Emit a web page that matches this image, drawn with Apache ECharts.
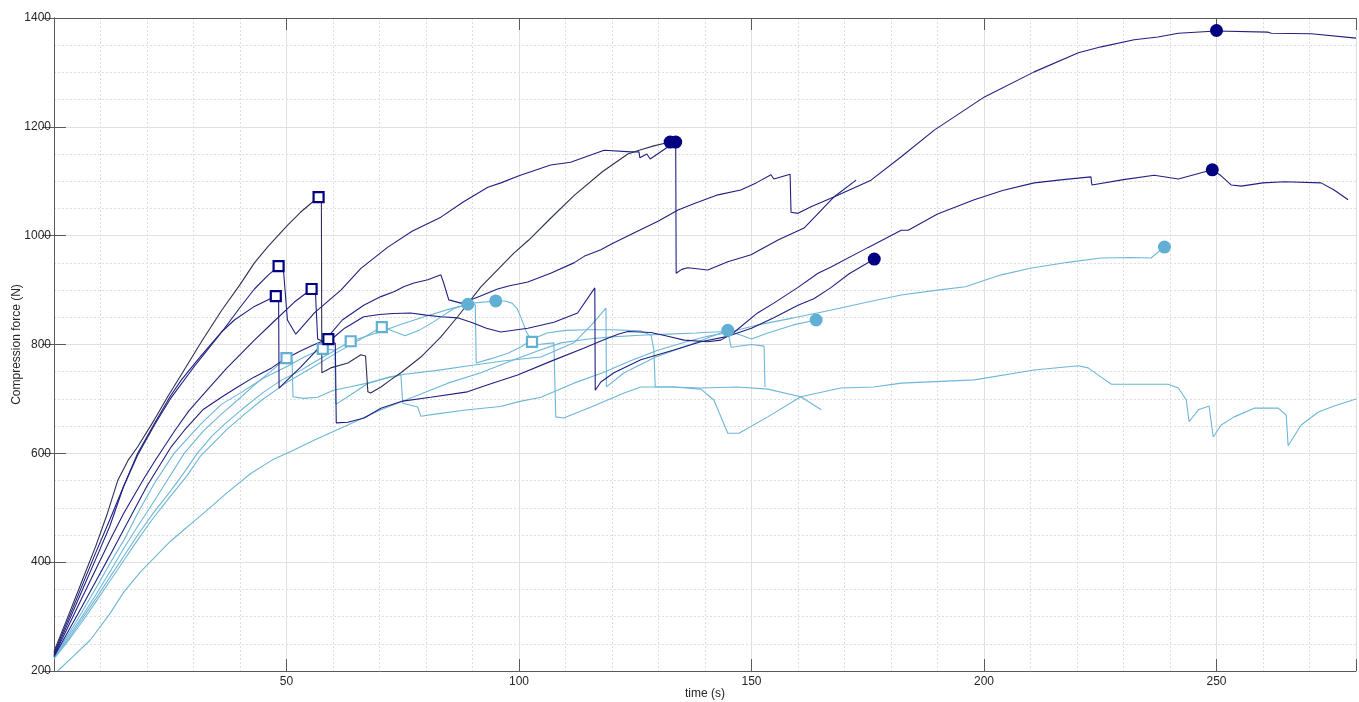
<!DOCTYPE html>
<html>
<head>
<meta charset="utf-8">
<script src="https://cdn.jsdelivr.net/npm/echarts@6/dist/echarts.min.js"></script>
<style>html,body{margin:0;padding:0;background:#fff;}#c{width:1359px;height:702px;}</style>
</head>
<body>
<div id="c"></div>
<script>
// ---- axis ranges / ticks ----
const xRange = [0, 280];
const yRange = [200, 1400];
const xMajor = 50, xMinor = 10, yMajor = 200, yMinor = 50;

// ---- navy (dark) test curves: [time s, force N] ----
const navyD = [[0,236],[3,300],[6,365],[9,430],[11.5,490],[13.7,550],[16,588],[18,612],[21.6,662],[24.5,705],[27.4,745],[31.7,805],[36,862],[40,910],[43.1,950],[46,980],[50.3,1020],[53,1043],[56.9,1071],[57.5,1071],[57.6,748],[59.5,757],[63.2,766],[66,781],[67,779],[67.5,713],[68.1,711],[70.3,722],[72.4,735],[74.6,748],[78.9,777],[83.2,814],[86.8,851],[91.8,906],[98.9,968],[102.1,992],[106.8,1032],[112,1075],[118,1118],[123.4,1150],[126.2,1158],[129,1165],[132.5,1172]];
const navyB = [[0,233],[3,294],[6,356],[9,418],[12,478],[15,540],[18,597],[21.6,652],[25,700],[30.2,760],[33,790],[36,822],[40,868],[43.1,902],[46,927],[48.3,944],[49.3,942],[50.2,845],[52,819],[56,858],[61.7,900],[66,940],[71.8,979],[77,1008],[83.2,1034],[88,1062],[93.3,1089],[96.1,1097],[100,1110],[106.8,1130],[111.1,1135],[118.3,1157],[124.1,1154],[125.8,1154],[126,1143],[127.5,1150],[128.2,1141],[132,1163],[133.7,1172],[133.8,931],[135,938],[136.3,941],[140.6,937],[144.9,952],[149.9,965],[155.7,992],[161.3,1014],[167.7,1071],[172.5,1102]];
const navyA = [[0,230],[3,288],[6,347],[9,406],[12,466],[15,540],[18,600],[21.6,655],[25,705],[27.4,735],[31.7,780],[36,823],[38.8,845],[43.1,870],[47.7,889],[48.3,889],[48.4,720],[50.2,735],[53,758],[56,785],[59,815],[62,845],[66.6,872],[70.3,888],[73.1,897],[75.2,906],[77.4,913],[80.4,919],[83.2,928],[83.8,913],[84.9,882],[87.5,876],[89,880],[92,890],[95.4,902],[98,908],[101.9,915],[106.8,931],[111.8,950],[114,962],[117.6,974],[120,985],[124.7,1005],[130,1027],[134.2,1047],[138,1060],[142.8,1075],[147.7,1084],[151,1097],[154.2,1112],[154.8,1104],[158.3,1113],[158.5,1043],[160,1041],[162.8,1053],[167.7,1071],[175.7,1102],[182.2,1145],[189.3,1194],[200.1,1255],[210.8,1301],[220.3,1336],[225.2,1347],[232.3,1360],[237.4,1365],[241.8,1372],[250,1376],[261.1,1374],[261.8,1372],[270.4,1371],[280,1363]];
const navyC = [[0,228],[3,281],[6,334],[9,387],[12,440],[15,490],[19.5,556],[22,590],[26,642],[29,678],[32.4,711],[37,755],[43.1,808],[47,840],[51.7,878],[55.4,902],[56.2,900],[56.7,810],[58,805],[60,812],[62.5,830],[66.6,851],[70,855],[73,857],[76.7,858],[80,854],[83.2,851],[86.8,849],[90,840],[93,830],[96.1,823],[101.9,830],[107.5,841],[112.6,858],[116.3,904],[116.4,716],[117.6,731],[120.4,748],[126.2,772],[133.3,790],[139.1,805],[144.9,815],[150,830],[154.8,849],[160,872],[163.4,884],[167,904],[171,930],[176.4,957]];
const navyE = [[0,226],[3,272],[6,318],[9,365],[12,412],[15,460],[20,540],[25.2,612],[28,642],[32,680],[36,703],[39.5,722],[43,740],[46.8,757],[49.4,772],[53,788],[56,800],[59,810],[60.5,802],[60.7,656],[63.2,657],[66.7,665],[70.3,683],[75,696],[81,703],[88.9,713],[93.3,726],[99.7,744],[106.8,769],[113.9,793],[118,808],[121.3,819],[123.4,824],[128.4,822],[132,815],[135.5,808],[140.6,805],[143.4,808],[146.2,822],[151.3,858],[154.8,876],[160,905],[164.3,931],[167,942],[175,978],[182.2,1010],[183.7,1010],[190,1040],[197.9,1066],[204,1083],[210.8,1097],[217,1103],[223,1108],[223.2,1093],[230,1103],[236.6,1111],[241.8,1104],[249.1,1121],[251,1110],[253.2,1093],[255.3,1091],[260,1097],[264.6,1099],[272.5,1097],[275.3,1084],[278.3,1066]];

// ---- light-blue test curves ----
const blue1 = [[0.8,200],[4,226],[7.8,257],[12,305],[15,345],[18.6,382],[22,412],[25,438],[28,460],[31.5,485],[37,526],[42.3,563],[47,588],[51.6,606],[55.9,624],[63.2,652],[70.3,680],[77.4,704],[84.7,729],[91.8,748],[98.9,772],[104,788],[109,803],[115,810],[120,814],[126,817],[132,819],[138,821],[142,823],[145,824],[147.5,818],[150,810],[153.5,821],[159,836],[163.9,845]];
const blue2 = [[0,226],[3,262],[6,300],[9,340],[12,382],[15,425],[18,466],[21,505],[24.4,551],[28,600],[32,640],[36,672],[40.3,704],[43,725],[46.8,752],[50,775],[51.2,772],[51.4,704],[53.7,701],[56.7,703],[60.1,716],[63.5,722],[67.4,729],[71,737],[74.6,744],[75,692],[78.2,685],[78.9,668],[82,672],[89,680],[96,686],[100,695],[104.7,703],[111.8,729],[118,748],[124,770],[130,790],[136,805],[140.5,815],[144.9,822],[151.3,836],[159.1,849],[167,863],[175,878],[182.2,891],[190,900],[196,906],[203.7,928],[210,940],[218,951],[225.2,959],[232,960],[235.9,959],[238.8,979]];
const blue3 = [[0,224],[3,258],[6,295],[9,333],[12,372],[15,411],[18,450],[21.5,492],[25,530],[28,565],[30.8,600],[34,632],[37,656],[40.3,680],[45,712],[49,735],[53,752],[56,768],[60,787],[63.8,806],[66,812],[70,823],[75,838],[80,852],[85,865],[89,874],[90.6,873],[90.8,766],[94,774],[97.6,784],[100.5,796],[103,810],[106,821],[110,826],[115,827],[120,827],[126.2,825],[128.4,817],[129,790],[129.3,722],[133,722],[139,720],[147,722],[153.5,718],[160.6,704],[165,680]];
const blue4 = [[0,222],[3,255],[6,290],[9,327],[12,365],[15,403],[18,441],[21,477],[24,510],[28.7,560],[31.5,595],[37.3,645],[41,672],[44.7,698],[50,730],[56,760],[61,786],[66,810],[70.5,832],[72.4,826],[75.5,816],[78.5,826],[81.7,842],[86,866],[90,876],[95,880],[97,880],[98.5,876],[99.6,866],[100.5,848],[101.5,825],[102.8,805],[104,800],[107.5,803],[107.9,667],[109.6,665],[115.5,685],[122.6,711],[126.2,722],[133.3,722],[139.1,718],[141.9,698],[144.9,637],[147.3,637],[153.5,667],[160.6,704],[169.2,720],[176.3,722],[182.2,729],[197.9,735],[210.8,753],[220.3,761],[222.4,757],[225.2,740],[227.4,727],[239.6,727],[241.8,720],[243.5,698],[244.1,658],[246.1,680],[248.4,687],[249.3,630],[251,652],[253.8,667],[258.1,683],[263.3,683],[265,670],[265.4,614],[268.2,652],[271.9,676],[275.3,687],[280,700]];
const blue5 = [[0,228],[3,266],[6,308],[9,352],[12,397],[15,440],[18,490],[21.6,545],[25.8,600],[31.7,655],[36,690],[40.3,712],[45,738],[50.2,760],[54,778],[57.8,792],[60.4,790],[60.6,690],[63,703],[67.4,728],[72,740],[75,745],[82,752],[90,762],[97,770],[104.7,777],[111.8,803],[115.5,835],[118.7,867],[118.8,722],[122.6,748],[129.4,777],[136.9,800],[144.9,826],[145.6,795],[150,800],[152.7,797],[152.9,722]];

// ---- markers ----
const navySquares = [[47.7,889],[48.3,944],[55.4,902],[56.9,1071],[59,810]];
const navyCircles = [[132.5,1172],[133.7,1172],[176.4,957],[249.1,1121],[250,1377]];
const blueSquares = [[50,775],[57.8,792],[63.8,806],[70.5,832],[102.8,805]];
const blueCircles = [[89,874],[95,880],[144.9,826],[163.9,845],[238.8,979]];

const NAVY = '#000080', NAVY_LINE = '#202080', GRAY_NAVY = '#2f2f55', BLUE = '#62afd4', BLUE_LINE = '#6db6d7';
const AX = '#5a5a5a', TXT = '#262626', FONT = 'Liberation Sans, Arial, Helvetica, sans-serif';

function lineS(data, color){
  return {type:'line', data:data, showSymbol:false, symbol:'none', smooth:false,
    lineStyle:{color:color, width:1.1}, xAxisIndex:0, yAxisIndex:0, silent:true, z:2};
}
const series = [
  lineS(blue1, BLUE_LINE), lineS(blue2, BLUE_LINE), lineS(blue3, BLUE_LINE), lineS(blue4, BLUE_LINE), lineS(blue5, BLUE_LINE),
  lineS(navyE, NAVY_LINE), lineS(navyC, NAVY_LINE), lineS(navyA, NAVY_LINE), lineS(navyB, NAVY_LINE), lineS(navyD, GRAY_NAVY),
  {type:'scatter', data:blueSquares, symbol:'rect', symbolSize:10, itemStyle:{color:'#fff', borderColor:BLUE, borderWidth:2.2, opacity:1}, z:5},
  {type:'scatter', data:blueCircles, symbol:'circle', symbolSize:13, itemStyle:{color:BLUE, opacity:1}, z:5},
  {type:'scatter', data:navySquares, symbol:'rect', symbolSize:10, itemStyle:{color:'#fff', borderColor:NAVY, borderWidth:2.2, opacity:1}, z:6},
  {type:'scatter', data:navyCircles, symbol:'circle', symbolSize:13, itemStyle:{color:NAVY, opacity:1}, z:6}
];

const chart = echarts.init(document.getElementById('c'), null, {renderer:'canvas'});
chart.setOption({
  animation:false,
  backgroundColor:'#fff',
  grid:{left:54, right:3, top:18, bottom:31, containLabel:false, outerBoundsMode:'none'},
  xAxis:[
    {type:'value', min:xRange[0], max:xRange[1], interval:xMajor, position:'bottom',
     name:'time (s)', nameLocation:'middle', nameGap:17, nameMoveOverlap:false,
     nameTextStyle:{color:TXT, fontSize:12, fontFamily:FONT},
     axisLine:{show:true, lineStyle:{color:AX, width:1}},
     axisTick:{show:true, inside:true, length:12, lineStyle:{color:AX}},
     axisLabel:{color:TXT, fontSize:12, fontFamily:FONT, margin:5, formatter:v => (v===0||v===280)?'':String(v)},
     splitLine:{show:true, lineStyle:{color:'#e2e2e2', width:1}}},
    {type:'value', min:xRange[0], max:xRange[1], interval:xMajor, position:'top',
     axisLine:{show:true, lineStyle:{color:AX, width:1}},
     axisTick:{show:true, inside:true, length:12, lineStyle:{color:AX}},
     axisLabel:{show:false}, splitLine:{show:false}},
    {type:'value', min:xRange[0], max:xRange[1], interval:xMinor, position:'bottom',
     axisLine:{show:false}, axisTick:{show:false}, axisLabel:{show:false},
     splitLine:{show:true, lineStyle:{color:'#dedede', width:1, type:[2,2]}}}
  ],
  yAxis:[
    {type:'value', min:yRange[0], max:yRange[1], interval:yMajor, position:'left',
     name:'Compression force (N)', nameLocation:'middle', nameGap:31, nameMoveOverlap:false,
     nameTextStyle:{color:TXT, fontSize:12, fontFamily:FONT},
     axisLine:{show:true, lineStyle:{color:AX, width:1}},
     axisTick:{show:true, inside:true, length:12, lineStyle:{color:AX}},
     axisLabel:{color:TXT, fontSize:12, fontFamily:FONT, margin:3, formatter:v => String(v)},
     splitLine:{show:true, lineStyle:{color:'#e2e2e2', width:1}}},
    {type:'value', min:yRange[0], max:yRange[1], interval:yMajor, position:'right',
     axisLine:{show:true, lineStyle:{color:AX, width:1}},
     axisTick:{show:true, inside:true, length:12, lineStyle:{color:AX}},
     axisLabel:{show:false}, splitLine:{show:false}},
    {type:'value', min:yRange[0], max:yRange[1], interval:yMinor, position:'left',
     axisLine:{show:false}, axisTick:{show:false}, axisLabel:{show:false},
     splitLine:{show:true, lineStyle:{color:'#dedede', width:1, type:[2,2]}}}
  ],
  series:series
});
</script>
</body>
</html>
